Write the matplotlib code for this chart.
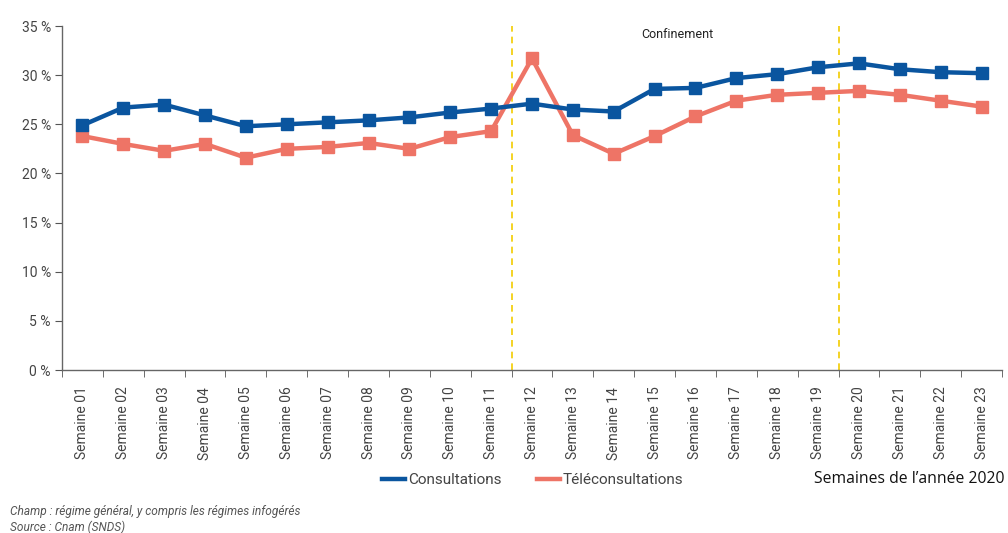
import matplotlib
matplotlib.use("Agg")
import matplotlib.pyplot as plt
from matplotlib.lines import Line2D
import numpy as np

weeks = [f"Semaine {i:02d}" for i in range(1, 24)]
consultations = [24.9, 26.7, 27.0, 25.9, 24.8, 25.0, 25.2, 25.4, 25.7, 26.2, 26.6,
                 27.1, 26.5, 26.3, 28.6, 28.7, 29.7, 30.1, 30.8, 31.2, 30.6, 30.3, 30.2]
teleconsultations = [23.8, 23.0, 22.3, 23.0, 21.6, 22.5, 22.7, 23.1, 22.5, 23.7, 24.3,
                     31.7, 23.9, 22.0, 23.8, 25.8, 27.4, 28.0, 28.2, 28.4, 28.0, 27.4, 26.8]
yticks = [0, 5, 10, 15, 20, 25, 30, 35]
confinement_bounds = [11, 19]  # boundaries after week index

plt.rcParams['font.family'] = ['Roboto', 'DejaVu Sans']

fig = plt.figure(figsize=(10.08, 5.33), dpi=100)
ax = fig.add_axes([62/1008, 1-370/533, 940/1008, 344/533])

x = np.arange(len(weeks))
blue = '#0A559F'
red = '#EE7466'
ax.plot(x, consultations, color=blue, lw=3.2, marker='s', ms=8, zorder=3)
ax.plot(x, teleconsultations, color=red, lw=3.2, marker='s', ms=8, zorder=2)

for b in confinement_bounds:
    ax.axvline(b - 0.5, color='#F2CC00', ls=(0, (4, 3)), lw=1.2, zorder=1)

ax.set_xlim(-0.5, len(weeks) - 0.5)
ax.set_ylim(0, 35)
ax.set_yticks(yticks)
ax.set_yticklabels([f"{v} %" for v in yticks], fontsize=10, color='#444444')
ax.set_xticks(x)
ax.set_xticklabels(weeks, rotation=90, fontsize=10, color='#444444')
ax.set_xticks(np.arange(len(weeks) + 1) - 0.5, minor=True)
ax.tick_params(axis='x', which='major', length=0, pad=12)
ax.tick_params(axis='x', which='minor', length=5, color='#555555')
ax.tick_params(axis='y', length=5, color='#555555', direction='out', pad=3)
for s in ['top', 'right']:
    ax.spines[s].set_visible(False)
for s in ['left', 'bottom']:
    ax.spines[s].set_color('#666666')
    ax.spines[s].set_linewidth(1)

ax.text(14.55, 34.1, 'Confinement', fontsize=9, color='#222222', ha='center', va='center')

handles = [Line2D([], [], color=blue, lw=3.2), Line2D([], [], color=red, lw=3.2)]
leg = fig.legend(handles, ['Consultations', 'Téléconsultations'], loc='center',
                 bbox_to_anchor=(533/1008, 1-480/533), ncol=2, frameon=False,
                 fontsize=11, handlelength=1.5, columnspacing=2.3, handletextpad=0.2)
for t in leg.get_texts():
    t.set_color('#444444')

fig.text(1004/1008, 1-479/533, 'Semaines de l\u2019année 2020', fontsize=11.3, ha='right', va='center',
         color='#111111', family=['Open Sans', 'DejaVu Sans'], weight='medium')
fig.text(10/1008, 1-511/533, 'Champ : régime général, y compris les régimes infogérés', fontsize=8.6,
         style='italic', color='#555555', va='center')
fig.text(10/1008, 1-527/533, 'Source : Cnam (SNDS)', fontsize=8.6, style='italic', color='#555555', va='center')

fig.savefig('out.png', dpi=100)
